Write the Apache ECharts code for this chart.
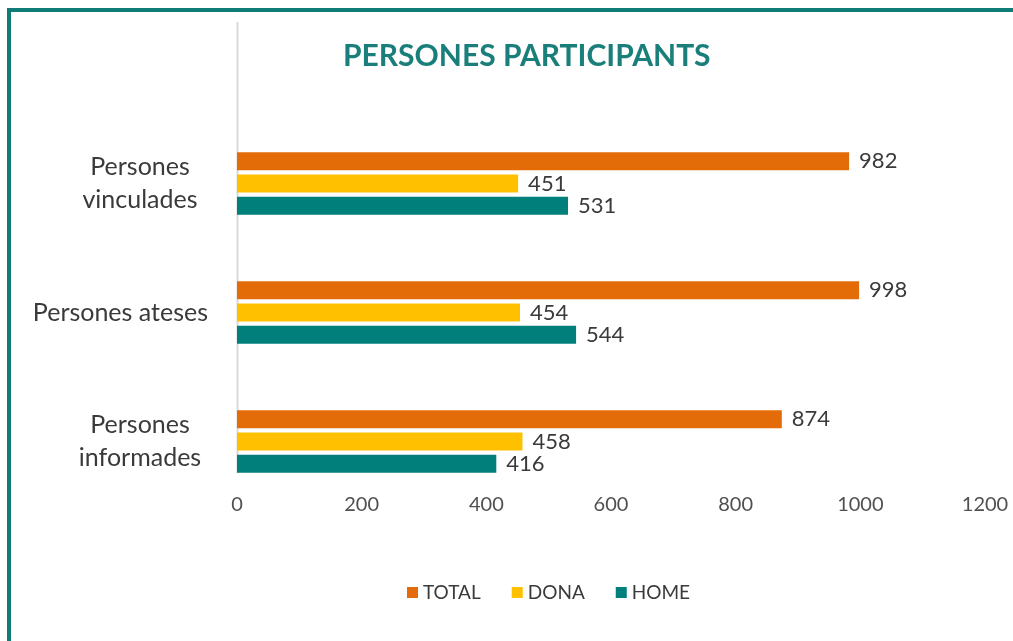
<!DOCTYPE html>
<html>
<head>
<meta charset="utf-8">
<title>Persones participants</title>
<script src="https://cdn.jsdelivr.net/npm/echarts@6/dist/echarts.min.js"></script>
<style>
    html, body { margin: 0; padding: 0; background: #fff; }
    #wrap { position: relative; width: 1013px; height: 641px; overflow: hidden; }
    #frame {
        position: absolute; left: 7px; top: 8px; right: -10px; bottom: -10px;
        border-top: 4px solid #0f7c78; border-left: 4px solid #0f7c78;
    }
    #chart { position: absolute; left: 0; top: 0; width: 1013px; height: 641px; }
</style>
</head>
<body>
<div id="wrap">
    <div id="frame"></div>
    <div id="chart"></div>
</div>
<script>
// dades del gràfic
var categories = ['Persones\nvinculades', 'Persones ateses', 'Persones\ninformades'];
var total = [982, 998, 874];
var dona = [451, 454, 458];
var home = [531, 544, 416];
var xTicks = [0, 200, 400, 600, 800, 1000, 1200];

var myChart = echarts.init(document.getElementById('chart'));

// etiqueta de valor comuna a les tres sèries
function valueLabel() {
    return {
        show: true,
        position: 'right',
        distance: 10,
        color: '#3a3a3a',
        fontFamily: 'Lato',
        fontSize: 22
    };
}

var option = {
    backgroundColor: 'transparent',
    animation: false,
    // títol
    title: {
        text: 'PERSONES PARTICIPANTS',
        left: 338,
        top: 36,
        textStyle: {
            color: '#1a7f7b',
            fontFamily: 'Lato',
            fontWeight: 'bold',
            fontSize: 30
        }
    },
    // llegenda
    legend: {
        data: ['TOTAL', 'DONA', 'HOME'],
        left: 402,
        top: 578,
        icon: 'rect',
        itemWidth: 11,
        itemHeight: 11,
        itemGap: 31,
        textStyle: {
            color: '#3a3a3a',
            fontFamily: 'Lato',
            fontSize: 19
        }
    },
    grid: {
        left: 237,
        right: 28,
        top: 119,
        bottom: 135,
        containLabel: false
    },
    xAxis: {
        type: 'value',
        min: xTicks[0],
        max: xTicks[xTicks.length - 1],
        interval: xTicks[1] - xTicks[0],
        axisLine: { show: false },
        axisTick: { show: false },
        splitLine: { show: false },
        axisLabel: {
            margin: -11,
            color: '#505050',
            fontFamily: 'Lato',
            fontSize: 20,
            formatter: function (v) { return String(v); }
        }
    },
    yAxis: {
        type: 'category',
        inverse: true,
        data: categories,
        axisLine: { show: false },
        axisTick: { show: false },
        axisLabel: {
            margin: 29,
            color: '#3a3a3a',
            fontFamily: 'Lato',
            fontSize: 25,
            lineHeight: 33,
            formatter: function (v) {
                if (v.indexOf('\n') < 0) return v;
                return v.split('\n').map(function (s) { return '{c|' + s + '}'; }).join('\n');
            },
            rich: {
                c: {
                    width: 136,
                    align: 'center',
                    color: '#3a3a3a',
                    fontFamily: 'Lato',
                    fontSize: 25,
                    lineHeight: 33
                }
            }
        }
    },
    // línia vertical de l'eix
    graphic: [{
        type: 'line',
        shape: { x1: 237.5, y1: 22, x2: 237.5, y2: 473 },
        style: { stroke: '#d9d9d9', lineWidth: 2 },
        z: 0
    }],
    series: [
        {
            name: 'TOTAL',
            type: 'bar',
            data: total,
            barWidth: 18,
            barGap: '24%',
            itemStyle: { color: '#e36c09' },
            label: valueLabel()
        },
        {
            name: 'DONA',
            type: 'bar',
            data: dona,
            barWidth: 18,
            barGap: '24%',
            itemStyle: { color: '#ffc000' },
            label: valueLabel()
        },
        {
            name: 'HOME',
            type: 'bar',
            data: home,
            barWidth: 18,
            barGap: '24%',
            itemStyle: { color: '#007f7b' },
            label: valueLabel()
        }
    ]
};

myChart.setOption(option);
</script>
</body>
</html>
